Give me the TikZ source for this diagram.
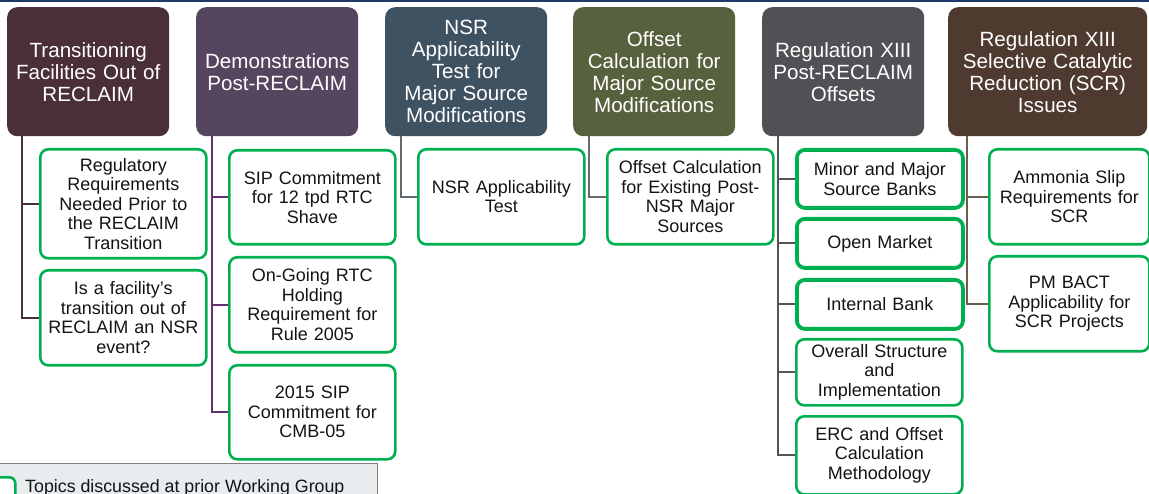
\documentclass[tikz,border=0pt]{standalone}
\usepackage{fontspec}
\setmainfont{Liberation Sans}
\definecolor{grn}{HTML}{00B050}
\definecolor{txt}{HTML}{141414}
\definecolor{topblue}{HTML}{1F3A68}
\definecolor{hA}{HTML}{4B2F37}
\definecolor{hB}{HTML}{56455F}
\definecolor{hC}{HTML}{3F5262}
\definecolor{hD}{HTML}{58613D}
\definecolor{hE}{HTML}{505055}
\definecolor{hF}{HTML}{4F3A2F}
\definecolor{lA}{HTML}{4B2F37}
\definecolor{lB}{HTML}{64306E}
\definecolor{lC}{HTML}{5F6B73}
\definecolor{lD}{HTML}{6A6A66}
\definecolor{lE}{HTML}{555555}
\definecolor{lF}{HTML}{6E5C4C}
\definecolor{legfill}{HTML}{E8ECEF}
\definecolor{legline}{HTML}{7F7F7F}
\begin{document}
\begin{tikzpicture}[x=1pt,y=-1pt,
  hdr/.style={rounded corners=10pt, fill=#1, text=white,
    font=\fontsize{20.6}{22}\selectfont, align=center, inner sep=0pt,
    anchor=north west, minimum height=129pt, text width=162pt},
  child/.style={rounded corners=8pt, draw=grn, line width=2.6pt, fill=white,
    text=txt, font=\fontsize{18}{19.5}\selectfont, align=center,
    inner sep=0pt, anchor=north west, text width=166pt},
  thick child/.style={child, line width=3.8pt},
  conn/.style={draw=#1, line width=2pt}]
\useasboundingbox (0,0) rectangle (1149,494);
\draw[topblue, line width=2.5pt] (0,1) -- (1149,1);

% headers
\node[hdr=hA] (h1) at (7,7) {Transitioning\\Facilities Out of\\RECLAIM};
\node[hdr=hB] (h2) at (196,7) {Demonstrations\\Post-RECLAIM};
\node[hdr=hC] (h3) at (385,7) {NSR\\Applicability\\Test for\\Major Source\\Modifications};
\node[hdr=hD] (h4) at (573,7) {Offset\\Calculation for\\Major Source\\Modifications};
\node[hdr=hE] (h5) at (762,7) {Regulation XIII\\Post-RECLAIM\\Offsets};
\node[hdr=hF, text width=199pt] (h6) at (948,7) {Regulation XIII\\Selective Catalytic\\Reduction (SCR)\\Issues};

% children column 1
\node[child, minimum height=109pt] (c11) at (39,148) {Regulatory\\Requirements\\Needed Prior to\\the RECLAIM\\Transition};
\node[child, minimum height=95pt] (c12) at (39,269) {Is a facility’s\\transition out of\\RECLAIM an NSR\\event?};
% column 2
\node[child, minimum height=94pt] (c21) at (228,149) {SIP Commitment\\for 12 tpd RTC\\Shave};
\node[child, minimum height=95pt] (c22) at (228,256) {On-Going RTC\\Holding\\Requirement for\\Rule 2005};
\node[child, minimum height=94pt] (c23) at (228,364) {2015 SIP\\Commitment for\\CMB-05};
% column 3
\node[child, minimum height=95pt] (c31) at (417,148) {NSR Applicability\\Test};
% column 4
\node[child, minimum height=95pt] (c41) at (606,148) {Offset Calculation\\for Existing Post-\\NSR Major\\Sources};
% column 5
\node[thick child, minimum height=58pt] (c51) at (795,148) {Minor and Major\\Source Banks};
\node[thick child, minimum height=49pt] (c52) at (795,217) {Open Market};
\node[thick child, minimum height=49pt] (c53) at (795,278) {Internal Bank};
\node[child, minimum height=66pt] (c54) at (795,338) {Overall Structure\\and\\Implementation};
\node[child, minimum height=78pt] (c55) at (795,415) {ERC and Offset\\Calculation\\Methodology};
% column 6
\node[child, minimum height=95pt, text width=160pt] (c61) at (988,148) {Ammonia Slip\\Requirements for\\SCR};
\node[child, minimum height=95pt, text width=160pt] (c62) at (988,255) {PM BACT\\Applicability for\\SCR Projects};

% connectors
\draw[conn=lA] ([xshift=15pt]h1.south west) |- (c11.west);
\draw[conn=lA] ([xshift=15pt]h1.south west) |- (c12.west);
\draw[conn=lB] ([xshift=16pt]h2.south west) |- (c21.west);
\draw[conn=lB] ([xshift=16pt]h2.south west) |- (c22.west);
\draw[conn=lB] ([xshift=16pt]h2.south west) |- (c23.west);
\draw[conn=lC] ([xshift=16pt]h3.south west) |- (c31.west);
\draw[conn=lD] ([xshift=16pt]h4.south west) |- (c41.west);
\draw[conn=lE] ([xshift=16pt]h5.south west) |- (c51.west);
\draw[conn=lE] ([xshift=16pt]h5.south west) |- (c52.west);
\draw[conn=lE] ([xshift=16pt]h5.south west) |- (c53.west);
\draw[conn=lE] ([xshift=16pt]h5.south west) |- (c54.west);
\draw[conn=lE] ([xshift=16pt]h5.south west) |- (c55.west);
\draw[conn=lF] ([xshift=19pt]h6.south west) |- (c61.west);
\draw[conn=lF] ([xshift=19pt]h6.south west) |- (c62.west);

% legend
\node[draw=legline, fill=legfill, line width=1pt, anchor=north west,
  minimum width=378pt, minimum height=40pt, inner sep=0pt] (leg) at (-1,463) {};
\node[draw=grn, fill=white, line width=2.6pt, rounded corners=6pt, anchor=north west,
  minimum width=24pt, minimum height=30pt, inner sep=0pt] (legsw) at (-10,476) {};
\node[anchor=base west, inner sep=0pt, text=txt, font=\fontsize{17.8}{20}\selectfont]
  (legtxt) at (25,492) {Topics discussed at prior Working Group};
\end{tikzpicture}
\end{document}
